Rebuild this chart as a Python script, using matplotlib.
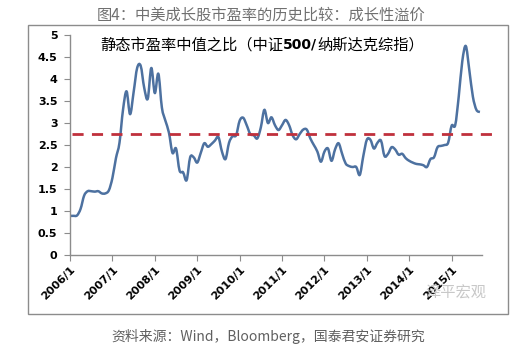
import numpy as np
import matplotlib
matplotlib.use("Agg")
import matplotlib.pyplot as plt
from matplotlib.patches import Rectangle, PathPatch
from matplotlib.path import Path

plt.rcParams['font.family'] = ['Noto Sans CJK SC', 'DejaVu Sans']

# ---------- data (monthly, 2006/1 .. 2015/9) ----------
ratio = [
    0.89, 0.89, 0.90, 1.05, 1.35, 1.45, 1.45, 1.44, 1.45, 1.40, 1.40, 1.47,   # 2006
    1.75, 2.20, 2.55, 3.30, 3.72, 3.20, 3.70, 4.25, 4.30, 3.80, 3.55, 4.25,   # 2007
    3.68, 4.12, 3.35, 3.05, 2.78, 2.32, 2.42, 1.92, 1.88, 1.70, 2.22, 2.22,   # 2008
    2.10, 2.32, 2.54, 2.46, 2.52, 2.60, 2.68, 2.35, 2.18, 2.55, 2.70, 2.72,   # 2009
    3.05, 3.12, 2.95, 2.75, 2.72, 2.65, 2.90, 3.30, 3.00, 3.13, 2.95, 2.84,   # 2010
    2.95, 3.07, 2.95, 2.72, 2.63, 2.75, 2.85, 2.85, 2.65, 2.50, 2.35, 2.12,   # 2011
    2.35, 2.42, 2.14, 2.40, 2.54, 2.30, 2.08, 2.02, 2.00, 2.00, 1.82, 2.25,   # 2012
    2.62, 2.62, 2.42, 2.55, 2.60, 2.25, 2.30, 2.45, 2.40, 2.28, 2.30, 2.20,   # 2013
    2.14, 2.10, 2.07, 2.06, 2.04, 2.00, 2.18, 2.22, 2.45, 2.48, 2.50, 2.55,   # 2014
    2.94, 2.95, 3.60, 4.40, 4.75, 4.20, 3.60, 3.30, 3.25,                     # 2015
]
avg_ratio = 2.76
year_labels = ["2006/1", "2007/1", "2008/1", "2009/1", "2010/1",
               "2011/1", "2012/1", "2013/1", "2014/1", "2015/1"]


def smooth_path(xs, ys, k=1 / 6):
    # Excel-like smoothed line: cubic Bezier segments through every point
    pts = np.column_stack([xs, ys]).astype(float)
    verts = [pts[0]]
    codes = [Path.MOVETO]
    n = len(pts)
    for i in range(n - 1):
        p0 = pts[max(i - 1, 0)]
        p1 = pts[i]
        p2 = pts[i + 1]
        p3 = pts[min(i + 2, n - 1)]
        verts += [p1 + (p2 - p0) * k, p2 - (p3 - p1) * k, p2]
        codes += [Path.CURVE4] * 3
    return Path(verts, codes)


W, H = 523, 356
fig = plt.figure(figsize=(W / 100, H / 100), dpi=100)
fig.patch.set_facecolor("white")

# outer frame of the chart area
fig.patches.append(Rectangle((28 / W, 1 - 314 / H), 480 / W, 289 / H,
                             transform=fig.transFigure, fill=False,
                             edgecolor="#8c8c8c", linewidth=1.0))

ax = fig.add_axes([70 / W, 1 - 255 / H, 411.7 / W, 220 / H])
x = np.arange(len(ratio))
ax.add_patch(PathPatch(smooth_path(x, ratio), facecolor="none",
                       edgecolor="#4d71a0", linewidth=1.8, joinstyle="round"))
ax.plot([0.5, 120.3], [avg_ratio, avg_ratio], color="#c0303c", linewidth=2.0,
        dashes=(4, 3), clip_on=False)

ax.set_xlim(0, len(ratio) - 0.5)
ax.set_ylim(0, 5)
ax.set_yticks(np.arange(0, 5.01, 0.5))
ax.set_yticklabels(["0", "0.5", "1", "1.5", "2", "2.5", "3", "3.5", "4", "4.5", "5"],
                   family=["DejaVu Sans"], fontweight="bold", fontsize=8)
ax.set_xticks(np.arange(0, 12 * len(year_labels), 12))
ax.set_xticklabels(year_labels, rotation=45, ha="right", va="top",
                   rotation_mode="anchor", family=["DejaVu Sans"],
                   fontweight="bold", fontsize=8)

for s in ["top", "right"]:
    ax.spines[s].set_visible(False)
for s in ["left", "bottom"]:
    ax.spines[s].set_color("#8c8c8c")
    ax.spines[s].set_linewidth(1.0)
ax.tick_params(axis="both", direction="out", length=4, color="#8c8c8c", pad=3)
ax.tick_params(axis="y", pad=5)

# title, inner label, source
fig.text(0.5, 1 - 15 / H, "图4：中美成长股市盈率的历史比较：成长性溢价",
         ha="center", va="center", fontsize=11, color="#707070")

r = fig.canvas.get_renderer()
tx = 100 / W
parts = [("静态市盈率中值之比（中证", "normal", ["Noto Sans CJK SC", "DejaVu Sans"], 11),
         ("500/", "bold", ["DejaVu Sans"], 10),
         ("纳斯达克综指）", "normal", ["Noto Sans CJK SC", "DejaVu Sans"], 11)]
for s, w, fam, fs in parts:
    t = fig.text(tx, 1 - 45 / H, s, fontsize=fs, fontweight=w, family=fam,
                 va="center", ha="left", color="black")
    tx += t.get_window_extent(renderer=r).width / fig.bbox.width

fig.text(425 / W, 1 - 293 / H, "泽平宏观", fontsize=11, color="#c8c8c8",
         ha="left", va="center")

fig.text(268 / W, 1 - 336 / H, "资料来源：Wind，Bloomberg，国泰君安证券研究",
         ha="center", va="center", fontsize=10, color="#606060")

fig.savefig("out.png", dpi=100, facecolor="white")
